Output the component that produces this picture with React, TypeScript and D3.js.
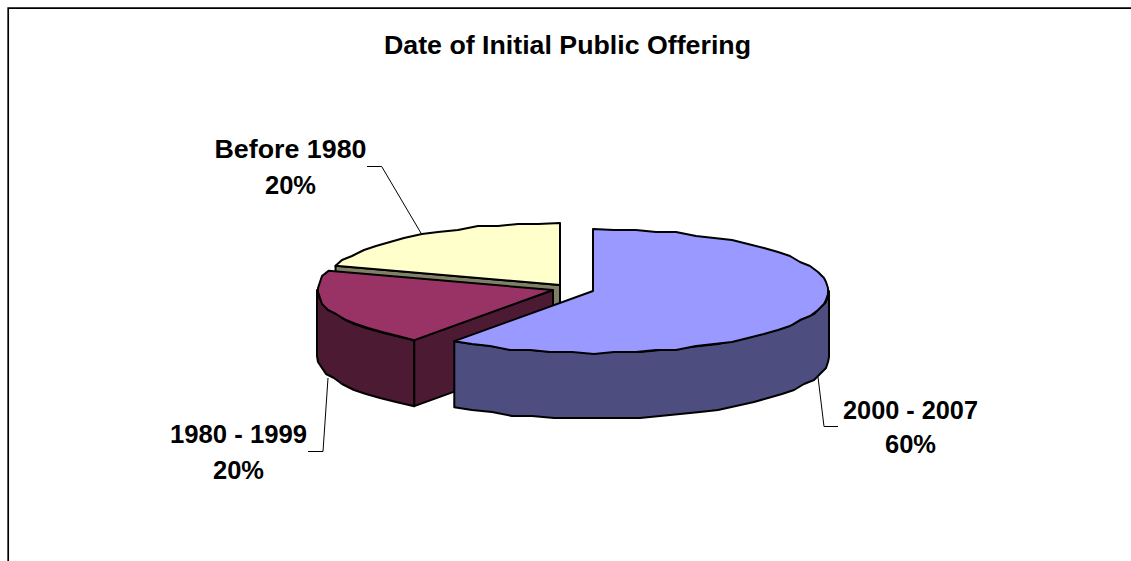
import React from "react";
import * as d3 from "d3";

const title = "Date of Initial Public Offering";
const categories = ["2000 - 2007", "1980 - 1999", "Before 1980"];
const shares = [60, 20, 20];
const percentLabels = ["60%", "20%", "20%"];
const topColors = ["#9999FF", "#993366", "#FFFFCC"];
const sideColors = ["#4D4D80", "#4D1A33", "#808066"];

const F = "'Liberation Sans', Arial, sans-serif";
const centers = [
  { x: 593, y: 291 },
  { x: 553, y: 290 },
  { x: 560, y: 285 },
];
const RX = 236;
const RY = 62;
const DEPTH = 66;

const arcs = d3.pie<number>().value((d) => d).sort(null)(shares);

function rim(i: number, a0: number, a1: number) {
  const c = centers[i];
  const x = d3.scaleLinear().domain([-1, 1]).range([c.x - RX, c.x + RX]);
  const y = d3.scaleLinear().domain([-1, 1]).range([c.y - RY, c.y + RY]);
  const n = Math.max(2, Math.round(Math.abs(a1 - a0) / 0.09));
  return d3.range(n + 1).map((k) => {
    const a = a0 + ((a1 - a0) * k) / n;
    const px = x(Math.sin(a));
    const py = y(-Math.cos(a));
    const edge = k === 0 || k === n;
    // Coarse pixel rounding reproduces the slightly faceted rim of the original.
    return (edge ? [px, py] : [Math.round(px / 2) * 2, Math.round(py / 2) * 2]) as [number, number];
  });
}

const line = d3.line();

function Slice({ i }: { i: number }) {
  const { startAngle, endAngle } = arcs[i];
  const c = centers[i];
  const top = rim(i, startAngle, endAngle);
  const topPath = line([[c.x, c.y], ...top])! + "Z";
  const walls: string[] = [];
  const s = Math.max(startAngle, Math.PI / 2);
  const e = Math.min(endAngle, (Math.PI * 3) / 2);
  if (e > s) {
    const r = rim(i, s, e);
    const low = r.map(([x, y]) => [x, y + DEPTH] as [number, number]).reverse();
    walls.push(line([...r, ...low])! + "Z");
  }
  if (i === 1 || i === 2) {
    const p = top[0];
    walls.push(line([[c.x, c.y], p, [p[0], p[1] + DEPTH], [c.x, c.y + DEPTH]])! + "Z");
  }
  const stroke = { stroke: "#000", strokeWidth: 2, strokeLinejoin: "round" as const };
  return (
    <g>
      {walls.map((d, k) => (
        <path key={k} d={d} fill={sideColors[i]} {...stroke} />
      ))}
      <path d={topPath} fill={topColors[i]} {...stroke} />
    </g>
  );
}

const labelStyle = {
  fontFamily: F,
  fontWeight: 700,
  fontSize: 25.5,
  fill: "#000",
  textAnchor: "middle" as const,
};

const labels = [
  { x: 910.5, y: 418.5, y2: 453, w: 135 },
  { x: 238.5, y: 443, y2: 479, w: 137 },
  { x: 290.5, y: 158, y2: 194, w: 152 },
];
const leaders: [number, number][][] = [
  [[818, 377], [824, 426.5], [838, 426.5]],
  [[328, 378], [323, 451.5], [308, 451.5]],
  [[421.5, 234], [381.7, 166.5], [367, 166.5]],
];

export default function App() {
  return (
    <svg
      width={1131}
      height={561}
      style={{ position: "absolute", left: 0, top: 0, display: "block", background: "#fff" }}
    >
      <path d="M8.2,561V8.2H1131" fill="none" stroke="#000" strokeWidth={1.7} />
      <text
        x={567.5}
        y={54}
        textAnchor="middle"
        fontFamily={F}
        fontWeight={700}
        fontSize={26}
        textLength={367}
        lengthAdjust="spacingAndGlyphs"
      >
        {title}
      </text>
      {[2, 1, 0].map((i) => (
        <Slice key={i} i={i} />
      ))}
      {leaders.map((l, i) => (
        <path key={i} d={line(l)!} fill="none" stroke="#000" strokeWidth={1} />
      ))}
      {categories.map((c, i) => (
        <g key={c}>
          <text
            x={labels[i].x}
            y={labels[i].y}
            textLength={labels[i].w}
            lengthAdjust="spacingAndGlyphs"
            {...labelStyle}
          >
            {c}
          </text>
          <text x={labels[i].x} y={labels[i].y2} {...labelStyle}>
            {percentLabels[i]}
          </text>
        </g>
      ))}
    </svg>
  );
}
